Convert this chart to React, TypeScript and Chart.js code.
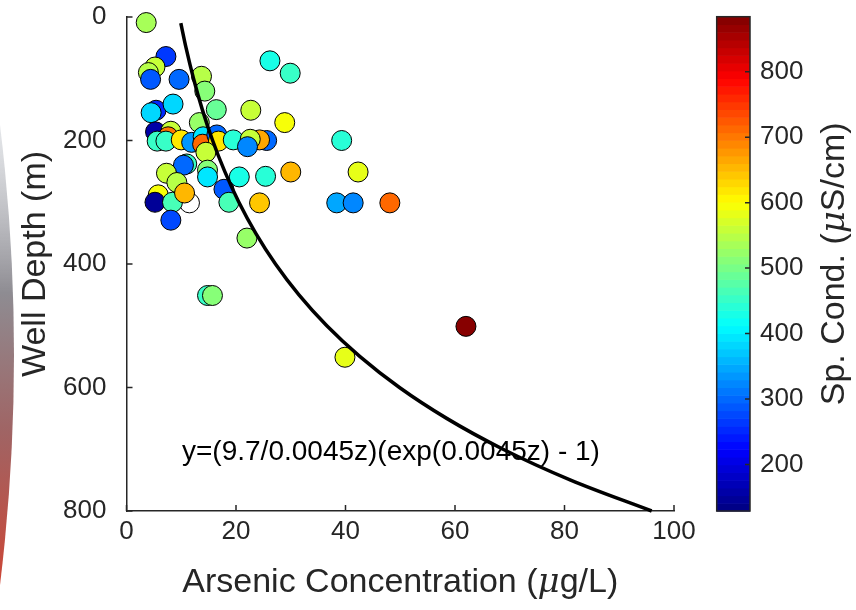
import React, { useEffect, useRef } from "react";
import { Chart, registerables } from "chart.js";

Chart.register(...registerables);

const FONT = "'Liberation Sans', Arial, Helvetica, sans-serif";
const MU_FONT = "'DejaVu Serif', 'Liberation Serif', serif";
const INK = "#262626";

// Scatter samples: arsenic (µg/L), well depth (m), specific conductance (µS/cm; null = no value)
const arsenic = [
  3.6, 7.2, 5.2, 4.0, 4.4, 9.6, 13.7, 14.3, 26.2, 29.9,
  5.4, 4.5, 8.5, 16.4, 22.7, 28.9, 13.3, 5.3, 8.1, 7.6,
  5.6, 7.2, 10.0, 11.9, 14.0, 13.9, 16.5, 16.8, 14.5, 19.5,
  25.6, 24.3, 22.6, 22.1, 39.3, 11.0, 10.4, 7.3, 9.2, 14.8,
  14.8, 20.6, 25.4, 30.0, 42.3, 17.8, 18.7, 24.3, 38.4, 41.4,
  48.1, 11.5, 5.8, 5.2, 8.4, 10.6, 8.1, 22.0, 14.8, 15.7,
  39.9, 62.0,
];
const wellDepth = [
  9, 64, 81, 90, 101, 101, 96, 120, 71, 91,
  151, 155, 141, 150, 151, 171, 171, 186, 185, 194,
  201, 201, 199, 203, 194, 206, 191, 201, 219, 199,
  200, 199, 198, 210, 200, 238, 240, 253, 268, 248,
  259, 259, 258, 251, 251, 279, 300, 301, 301, 301,
  301, 301, 288, 300, 300, 285, 329, 358, 451, 451,
  551, 501,
];
const spCond: (number | null)[] = [
  540, 265, 565, 550, 290, 300, 550, 515, 425, 455,
  250, 385, 380, 490, 565, 600, 525, 160, 555, 705,
  455, 450, 615, 330, 390, 710, 300, 615, 560, 445,
  305, 660, 565, 318, 445, 455, 305, 565, 545, 510,
  390, 430, 445, 650, 580, 290, 465, 648, 345, 318,
  718, null, 590, 145, 460, 650, 280, 520, 455, 510,
  585, 884,
];

// Fitted curve
const curveDepth = [10, 50, 100, 150, 200, 250, 300, 350, 400, 450, 500, 550, 600, 650, 700, 750, 800];
const curveArsenic = [9.92, 10.88, 12.25, 13.85, 15.73, 17.94, 20.53, 23.59, 27.21, 31.5, 36.59, 42.65, 49.86, 58.48, 68.78, 81.12, 95.92];

const xTicks = [0, 20, 40, 60, 80, 100];
const yTicks = [0, 200, 400, 600, 800];
const cbTicks = [200, 300, 400, 500, 600, 700, 800];
const cbMin = 129;
const cbMax = 884;

const fitLabel = "y=(9.7/0.0045z)(exp(0.0045z) - 1)";
const fitLabelX = 48.3;
const fitLabelDepth = 705;

const xTitleParts = ["Arsenic Concentration (", "\u03bc", "g/L)"];
const cbTitleParts = ["Sp. Cond. (", "\u03bc", "S/cm)"];

function jet(t: number): string {
  const n = 64;
  let i = Math.floor(t * n);
  if (i < 0) i = 0;
  if (i > n - 1) i = n - 1;
  const u = (i + 0.5) / n;
  const c = (v: number) => Math.round(255 * Math.max(0, Math.min(1, v)));
  const r = c(1.5 - Math.abs(4 * u - 3));
  const g = c(1.5 - Math.abs(4 * u - 2));
  const b = c(1.5 - Math.abs(4 * u - 1));
  return `rgb(${r},${g},${b})`;
}

function condColor(v: number | null): string {
  if (v === null) return "#ffffff";
  return jet((v - cbMin) / (cbMax - cbMin));
}

// draws text made of [normal, italic-mu, normal] parts centred at (0,0) of current transform
function drawMixed(ctx: any, parts: string[], size: number) {
  const fonts = [`${size}px ${FONT}`, `italic ${size}px ${MU_FONT}`, `${size}px ${FONT}`];
  let total = 0;
  const widths = parts.map((p, i) => {
    ctx.font = fonts[i];
    const w = ctx.measureText(p).width;
    total += w;
    return w;
  });
  ctx.textBaseline = "middle";
  ctx.textAlign = "left";
  let x = -total / 2;
  parts.forEach((p, i) => {
    ctx.font = fonts[i];
    ctx.fillText(p, x, 0);
    x += widths[i];
  });
}

const edgeArtifact = {
  id: "edgeArtifact",
  beforeDraw(chart: any) {
    const ctx = chart.ctx;
    ctx.save();
    const g = ctx.createLinearGradient(0, 130, 0, 595);
    g.addColorStop(0, "rgba(200,204,210,0.5)");
    g.addColorStop(0.35, "#8e8c92");
    g.addColorStop(0.65, "#a06464");
    g.addColorStop(1, "#cf4433");
    ctx.fillStyle = g;
    ctx.beginPath();
    ctx.arc(-1882, 355, 1896, -Math.PI / 2, Math.PI / 2);
    ctx.closePath();
    ctx.fill();
    ctx.restore();
  },
};

const axisDecor = {
  id: "axisDecor",
  beforeDatasetsDraw(chart: any) {
    const { ctx, scales } = chart;
    const xs = scales.x;
    const ys = scales.y;
    const area = chart.chartArea;
    ctx.save();
    ctx.strokeStyle = INK;
    ctx.lineWidth = 1.5;
    ctx.beginPath();
    for (const v of xTicks) {
      const px = xs.getPixelForValue(v);
      ctx.moveTo(px, area.bottom);
      ctx.lineTo(px, area.bottom - 6);
    }
    for (const v of yTicks) {
      const py = ys.getPixelForValue(v);
      ctx.moveTo(area.left, py);
      ctx.lineTo(area.left + 6, py);
    }
    ctx.stroke();
    // fit label
    ctx.fillStyle = "#000";
    ctx.font = `28px ${FONT}`;
    ctx.textAlign = "center";
    ctx.textBaseline = "middle";
    ctx.fillText(fitLabel, xs.getPixelForValue(fitLabelX), ys.getPixelForValue(fitLabelDepth));
    // x axis title
    ctx.fillStyle = INK;
    ctx.translate((area.left + area.right) / 2, 583);
    drawMixed(ctx, xTitleParts, 34);
    ctx.restore();
  },
};

const colorbarPlugin = {
  id: "colorbar",
  beforeDatasetsDraw(chart: any) {
    const { ctx, chartArea } = chart;
    const { left, right, top, bottom } = chartArea;
    const ys = chart.scales.y;
    const n = 64;
    const span = cbMax - cbMin;
    ctx.save();
    for (let i = 0; i < n; i++) {
      const y0 = ys.getPixelForValue(cbMin + (span * i) / n);
      const y1 = ys.getPixelForValue(cbMin + (span * (i + 1)) / n);
      ctx.fillStyle = jet((i + 0.5) / n);
      ctx.fillRect(left, y1, right - left, y0 - y1 + 0.6);
    }
    ctx.strokeStyle = INK;
    ctx.lineWidth = 1.5;
    ctx.strokeRect(left, top, right - left, bottom - top);
    ctx.beginPath();
    for (const v of cbTicks) {
      const py = ys.getPixelForValue(v);
      ctx.moveTo(right, py);
      ctx.lineTo(right - 5, py);
    }
    ctx.stroke();

    // title reading upward
    ctx.translate(835, (top + bottom) / 2);
    ctx.rotate(-Math.PI / 2);
    ctx.fillStyle = INK;
    drawMixed(ctx, cbTitleParts, 34);
    ctx.restore();
  },
};

const zeroPad = (s: any) => {
  s.paddingTop = 0;
  s.paddingBottom = 0;
};

export default function App() {
  const mainRef = useRef<HTMLCanvasElement | null>(null);
  const cbRef = useRef<HTMLCanvasElement | null>(null);

  useEffect(() => {
    document.body.style.margin = "0";
    const main = new Chart(mainRef.current as HTMLCanvasElement, {
      type: "scatter",
      data: {
        datasets: [
          {
            type: "line",
            data: curveDepth.map((d, i) => ({ x: curveArsenic[i], y: d })),
            borderColor: "#000",
            borderWidth: 3.5,
            pointRadius: 0,
            fill: false,
            cubicInterpolationMode: "monotone",
            clip: false,
            order: 0,
          } as any,
          {
            type: "scatter",
            data: arsenic.map((a, i) => ({ x: a, y: wellDepth[i] })),
            pointRadius: 10,
            pointHoverRadius: 10,
            pointBackgroundColor: spCond.map(condColor),
            pointBorderColor: "#000",
            pointBorderWidth: 1,
            clip: false,
            order: 1,
          } as any,
        ],
      },
      options: {
        responsive: false,
        animation: false,
        events: [],
        layout: { padding: { top: 17, right: 182, left: 0, bottom: 0 } },
        plugins: { legend: { display: false }, tooltip: { enabled: false } },
        scales: {
          x: {
            type: "linear",
            min: 0,
            max: 100,
            position: "bottom",
            afterBuildTicks: (s: any) => {
              s.ticks = xTicks.map((v) => ({ value: v }));
            },
            afterFit: (s: any) => {
              s.height = 99;
            },
            ticks: { font: { family: FONT, size: 26 }, color: INK, padding: 5, maxRotation: 0 },
            grid: { display: false, drawTicks: false },
            border: { display: true, color: INK, width: 1.5 },
            title: { display: false },
          },
          y: {
            type: "linear",
            min: 0,
            max: 800,
            reverse: true,
            position: "left",
            afterBuildTicks: (s: any) => {
              s.ticks = yTicks.map((v) => ({ value: v }));
            },
            afterFit: (s: any) => {
              s.width = 126.5;
              zeroPad(s);
            },
            ticks: { font: { family: FONT, size: 26 }, color: INK, padding: 20 },
            grid: { display: false, drawTicks: false },
            border: { display: true, color: INK, width: 1.5 },
            title: {
              display: true,
              text: "Well Depth (m)",
              font: { family: FONT, size: 34 },
              color: INK,
              padding: { top: 15, bottom: 0 },
            },
          },
        },
      } as any,
      plugins: [edgeArtifact, axisDecor],
    });

    const cb = new Chart(cbRef.current as HTMLCanvasElement, {
      type: "scatter",
      data: { datasets: [] },
      options: {
        responsive: false,
        animation: false,
        events: [],
        layout: { padding: { top: 16.7, left: 716.7, bottom: 99, right: 0 } },
        plugins: { legend: { display: false }, tooltip: { enabled: false } },
        scales: {
          x: { type: "linear", display: false, min: 0, max: 1 },
          y: {
            type: "linear",
            position: "right",
            min: cbMin,
            max: cbMax,
            afterBuildTicks: (s: any) => {
              s.ticks = cbTicks.map((v) => ({ value: v }));
            },
            afterFit: (s: any) => {
              s.width = 106;
              zeroPad(s);
            },
            ticks: { font: { family: FONT, size: 26 }, color: INK, padding: 10 },
            grid: { display: false, drawTicks: false },
            border: { display: false },
          },
        },
      } as any,
      plugins: [colorbarPlugin],
    });

    return () => {
      main.destroy();
      cb.destroy();
    };
  }, []);

  return (
    <div style={{ position: "fixed", left: 0, top: 0, width: 856, height: 610, background: "#fff" }}>
      <canvas ref={mainRef} width={856} height={610} style={{ position: "absolute", left: 0, top: 0 }} />
      <canvas ref={cbRef} width={856} height={610} style={{ position: "absolute", left: 0, top: 0 }} />
    </div>
  );
}
